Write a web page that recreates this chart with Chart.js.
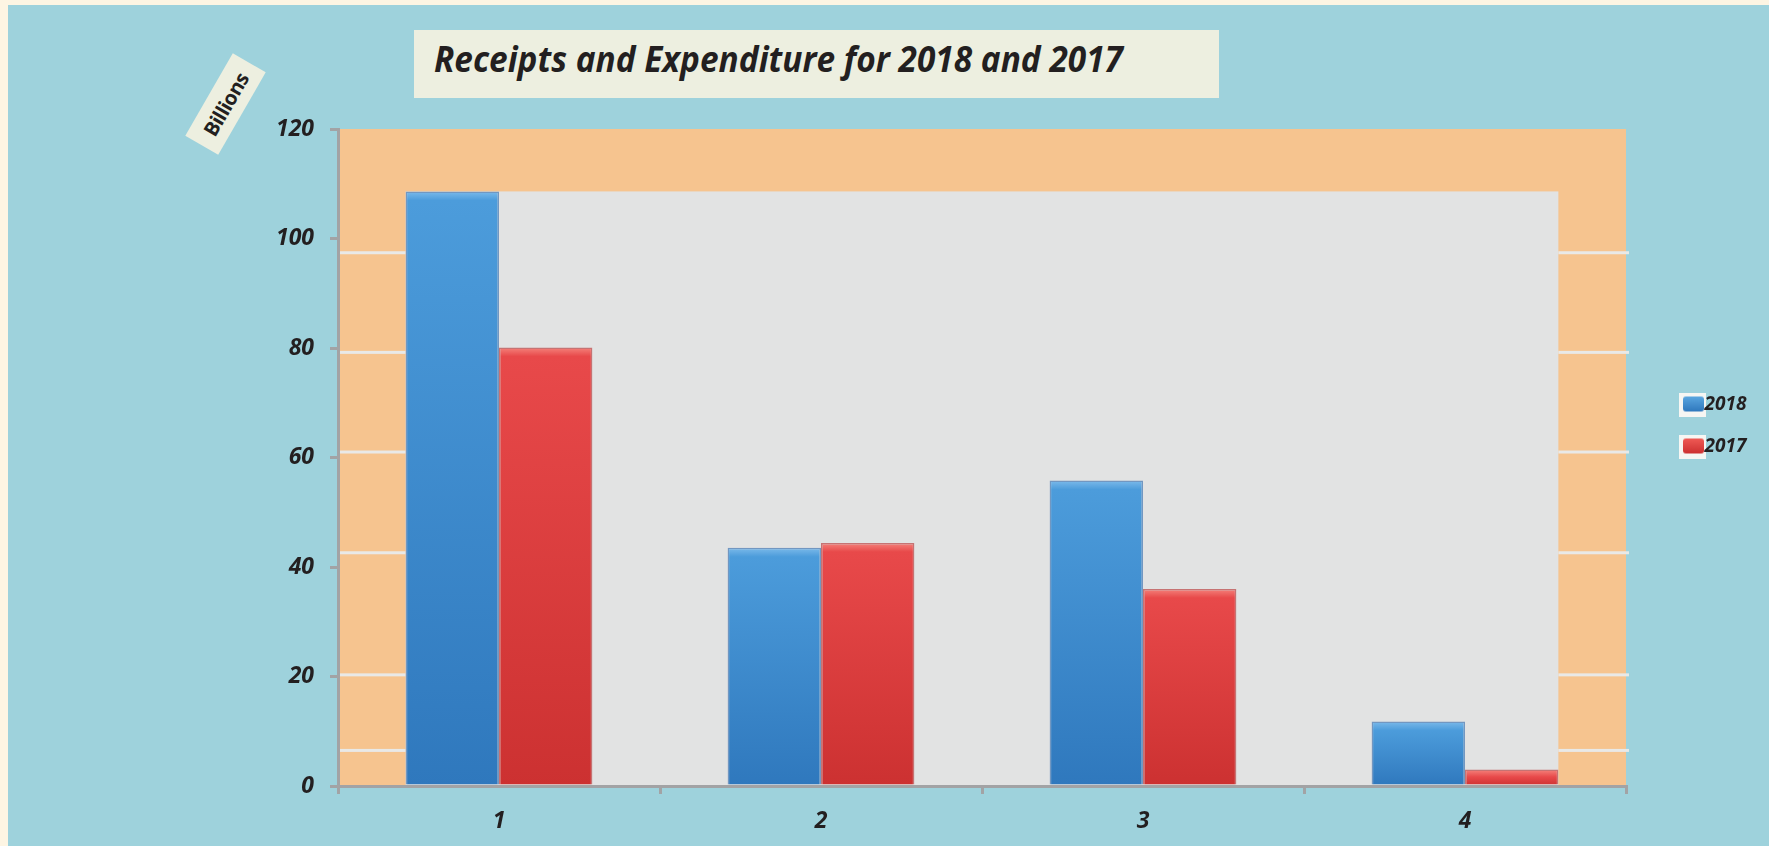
<!DOCTYPE html>
<html><head><meta charset="utf-8">
<script src="https://cdn.jsdelivr.net/npm/chart.js@4"></script>
<style>
html,body{margin:0;padding:0;width:1769px;height:846px;overflow:hidden;background:#fdf5e3;}
#panel{position:absolute;left:8px;top:5px;right:0;bottom:0;background:#9ed2dc;}
#c{position:absolute;left:0;top:0;}
#title{position:absolute;left:414px;top:30px;width:805px;height:68px;background:#edefe0;}
#title span{position:absolute;left:20px;top:12px;font:italic 700 35px 'Open Sans';line-height:34px;color:#231f20;white-space:nowrap;transform-origin:left center;display:inline-block;}
#ylab{position:absolute;left:178px;top:85px;width:95px;height:38px;background:#edefe0;transform:rotate(-60deg);display:flex;align-items:center;justify-content:center;font:700 20px 'Open Sans';letter-spacing:-0.5px;color:#231f20;}
</style>
</head><body>
<div id="panel"></div>
<div id="title"><span>Receipts and Expenditure for 2018 and 2017</span></div>
<div id="ylab">Billions</div>
<canvas id="c" width="1769" height="846"></canvas>
<script>
const categories = ['1', '2', '3', '4'];
const seriesNames = ['2018', '2017'];
const values2018 = [108.6, 43.5, 55.8, 11.8];
const values2017 = [80.1, 44.4, 36.0, 3.0];
const yTickValues = [0, 20, 40, 60, 80, 100, 120];
const bandLineValues = [97.4, 79.2, 61.0, 42.6, 20.3, 6.5];

// fit title width
(function(){
  const t = document.querySelector('#title span');
  const w = t.getBoundingClientRect().width;
  t.style.transform = 'scaleX(' + (689 / w) + ')';
})();

const FONT = {family: "'Open Sans', sans-serif", size: 23, style: 'italic', weight: 'bold'};
const AXIS_GRAY = '#a2a3a5';

function barFill(light, mid, dark) {
  return (ctx) => {
    const chart = ctx.chart;
    if (!chart.chartArea || ctx.type !== 'data') return mid;
    const v = ctx.raw;
    const ys = chart.scales.y;
    const top = ys.getPixelForValue(v), bot = ys.getPixelForValue(0);
    const h = Math.max(bot - top, 1);
    const g = chart.ctx.createLinearGradient(0, top, 0, bot);
    g.addColorStop(0, light);
    g.addColorStop(Math.min(9 / h, 0.45), mid);
    g.addColorStop(1, dark);
    return g;
  };
}

function makeIcon(c1, c2) {
  const cv = document.createElement('canvas');
  cv.width = 27; cv.height = 24;
  const g = cv.getContext('2d');
  g.fillStyle = '#f6f6f3'; g.fillRect(0, 0, 27, 24);
  const gr = g.createLinearGradient(0, 4, 0, 19);
  gr.addColorStop(0, c1); gr.addColorStop(1, c2);
  g.fillStyle = gr;
  g.beginPath(); g.roundRect(4, 4, 21, 15, 3); g.fill();
  return cv;
}
const icons = [makeIcon('#5aa6e0', '#2f78bd'), makeIcon('#ef5a55', '#cc3030')];

const bgPlugin = {
  id: 'bgPlugin',
  afterInit(chart) {
    const lg = chart.legend;
    const f = lg.fit;
    lg.fit = function() { f.call(this); this.width = 143; };
  },
  afterLayout(chart) {
    const lg = chart.legend;
    lg.left = 1667; lg.right = 1769; lg.top = 372;
  },
  beforeDraw(chart) {
    const {ctx, chartArea: a} = chart;
    const m0 = chart.getDatasetMeta(0).data, m1 = chart.getDatasetMeta(1).data;
    ctx.save();
    ctx.fillStyle = '#f6c48f';
    ctx.fillRect(a.left, a.top, a.right - a.left, a.bottom - a.top);
    const left = m0[0].x - m0[0].width / 2;
    const last = m1[m1.length - 1];
    const right = last.x + last.width / 2;
    const top = Math.min(...m0.map(b => b.y), ...m1.map(b => b.y));
    ctx.fillStyle = '#e2e3e3';
    ctx.fillRect(left, top, right - left, a.bottom - top);
    ctx.fillStyle = '#e9e9e7';
    bandLineValues.forEach(v => {
      const y = chart.scales.y.getPixelForValue(v);
      ctx.fillRect(a.left, y - 1.5, left - a.left, 3);
      ctx.fillRect(right, y - 1.5, a.right + 3 - right, 3);
    });
    ctx.restore();
  }
};

new Chart(document.getElementById('c'), {
  type: 'bar',
  data: {
    labels: categories,
    datasets: [
      {label: seriesNames[0], data: values2018,
       backgroundColor: barFill('#7cbaea', '#4c9cdb', '#2f78bd'),
       borderColor: 'rgba(40,100,170,0.6)', borderWidth: 1.5},
      {label: seriesNames[1], data: values2017,
       backgroundColor: barFill('#f4837c', '#e8494a', '#cc3131'),
       borderColor: 'rgba(180,40,40,0.6)', borderWidth: 1.5}
    ]
  },
  options: {
    responsive: false,
    animation: false,
    layout: {padding: {top: 129, left: 0, right: 0, bottom: 0}},
    datasets: {bar: {categoryPercentage: 0.58, barPercentage: 1.0}},
    scales: {
      x: {
        offset: true,
        grid: {offset: true, drawOnChartArea: false, drawTicks: true, tickLength: 8, color: AXIS_GRAY, lineWidth: 3},
        border: {display: true, color: AXIS_GRAY, width: 3},
        ticks: {font: FONT, color: '#231f20', padding: 14},
        afterFit(s) { s.height = 60; }
      },
      y: {
        min: 0, max: 120,
        afterBuildTicks(s) { s.ticks = yTickValues.map(v => ({value: v})); },
        grid: {drawOnChartArea: false, drawTicks: true, tickLength: 8, color: AXIS_GRAY, lineWidth: 3},
        border: {display: true, color: AXIS_GRAY, width: 3},
        ticks: {font: FONT, color: '#231f20', padding: 16},
        afterFit(s) { s.width = 338; }
      }
    },
    plugins: {
      title: {display: false},
      tooltip: {enabled: false},
      legend: {
        display: true,
        position: 'right',
        align: 'start',
        labels: {
          usePointStyle: true,
          pointStyleWidth: 5,
          padding: 23,
          color: '#231f20',
          font: {family: "'Open Sans', sans-serif", size: 19, style: 'italic', weight: 'bold'},
          generateLabels() {
            return seriesNames.map((n, i) => ({
              text: n, pointStyle: icons[i], datasetIndex: i,
              fillStyle: '#ffffff', strokeStyle: 'rgba(0,0,0,0)', lineWidth: 0,
              hidden: false, fontColor: '#231f20'
            }));
          }
        }
      }
    }
  },
  plugins: [bgPlugin]
});
</script>
</body></html>
